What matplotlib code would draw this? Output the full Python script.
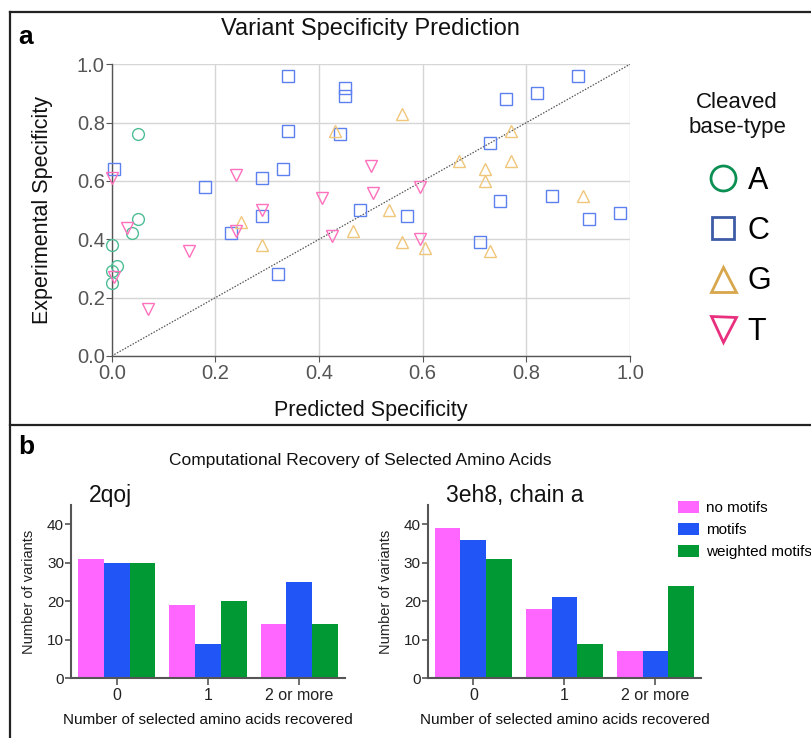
import matplotlib
matplotlib.use("Agg")
import matplotlib.pyplot as plt
from matplotlib.lines import Line2D
from matplotlib.patches import Patch
import numpy as np

# ---------------- panel a data: predicted vs experimental specificity ----------------
a_pred = [0.05, 0.05, 0.04, 0.0, 0.01, 0.0, 0.0]
a_exp = [0.76, 0.47, 0.42, 0.38, 0.31, 0.29, 0.25]

c_pred = [0.005, 0.34, 0.45, 0.45, 0.34, 0.44, 0.18, 0.33, 0.29, 0.29, 0.23, 0.32,
          0.48, 0.90, 0.82, 0.76, 0.73, 0.57, 0.75, 0.85, 0.92, 0.98, 0.71]
c_exp = [0.64, 0.96, 0.92, 0.89, 0.77, 0.76, 0.58, 0.64, 0.61, 0.48, 0.42, 0.28,
         0.50, 0.96, 0.90, 0.88, 0.73, 0.48, 0.53, 0.55, 0.47, 0.49, 0.39]

g_pred = [0.43, 0.25, 0.29, 0.465, 0.56, 0.77, 0.67, 0.77, 0.72, 0.72, 0.535, 0.56,
          0.605, 0.73, 0.91]
g_exp = [0.77, 0.46, 0.38, 0.43, 0.83, 0.77, 0.67, 0.67, 0.64, 0.60, 0.50, 0.39,
         0.37, 0.36, 0.55]

t_pred = [0.0, 0.03, 0.005, 0.07, 0.15, 0.24, 0.29, 0.24, 0.405, 0.425, 0.50, 0.505,
          0.595, 0.595]
t_exp = [0.61, 0.44, 0.27, 0.16, 0.36, 0.62, 0.50, 0.43, 0.54, 0.41, 0.65, 0.56,
         0.58, 0.40]

base_labels = ["A", "C", "G", "T"]
base_markers = ["o", "s", "^", "v"]
point_colors = ["#4dbd94", "#5d80f0", "#efc67a", "#ff70bd"]
legend_colors = ["#0b8f52", "#3e5ba6", "#d8a64c", "#e8307f"]

# ---------------- panel b data: recovered amino acids ----------------
groups = ["0", "1", "2 or more"]
methods = ["no motifs", "motifs", "weighted motifs"]
method_colors = ["#ff66ff", "#2255f5", "#009933"]
# one list per method, values for groups 0 / 1 / 2 or more
counts_2qoj = [[31, 19, 14], [30, 9, 25], [30, 20, 14]]
counts_3eh8 = [[39, 18, 7], [36, 21, 7], [31, 9, 24]]

W, H = 811, 738
plt.rcParams["font.family"] = ["Liberation Sans", "DejaVu Sans"]
fig = plt.figure(figsize=(W / 100, H / 100), dpi=100)


def fx(px):
    return px / W


def fy(py):
    return 1 - py / H


# frame lines
for (x0, y0, x1, y1) in [(9.5, 11.5, 811, 11.5), (9.5, 11.5, 9.5, 738), (9.5, 425, 811, 425)]:
    fig.add_artist(Line2D([fx(x0), fx(x1)], [fy(y0), fy(y1)], color="#222222", lw=1.6,
                          transform=fig.transFigure))

fig.text(fx(18), fy(37), "a", fontsize=19, fontweight="bold", va="center", ha="left")
fig.text(fx(18), fy(447), "b", fontsize=19, fontweight="bold", va="center", ha="left")

# ---------------- panel a ----------------
ax = fig.add_axes([fx(111.7), fy(356), fx(630) - fx(111.7), fy(64.3) - fy(356)])
ax.set_xlim(0, 1)
ax.set_ylim(0, 1)
ticks = np.arange(0, 1.01, 0.2)
ax.set_xticks(ticks)
ax.set_yticks(ticks)
ax.set_xticklabels([f"{t:.1f}" for t in ticks])
ax.set_yticklabels([f"{t:.1f}" for t in ticks])
ax.grid(True, color="#d6d6d6", lw=1.0)
ax.set_axisbelow(True)
for s in ["top", "right"]:
    ax.spines[s].set_visible(False)
for s in ["left", "bottom"]:
    ax.spines[s].set_color("#555555")
    ax.spines[s].set_linewidth(1.0)
ax.tick_params(colors="#555555", labelcolor="#555555", labelsize=14.5, length=4, width=0.8)
ax.tick_params(axis="x", pad=2)
ax.tick_params(axis="y", pad=1)
ax.plot([0, 1], [0, 1], color="#555555", lw=0.9, ls=(0, (1.2, 1.2)), zorder=2)

for xs, ys, m, c in zip([a_pred, c_pred, g_pred, t_pred], [a_exp, c_exp, g_exp, t_exp],
                        base_markers, point_colors):
    ax.plot(xs, ys, ls="none", marker=m, ms=8.5 if m != "s" else 8, mfc="none",
            mec=c, mew=1.0, zorder=3, clip_on=False)

ax.set_xlabel("Predicted Specificity", fontsize=15.5, color="#111111", labelpad=12)
ax.set_ylabel("Experimental Specificity", fontsize=15.5, color="#111111", labelpad=17)
fig.text(fx(370), fy(29), "Variant Specificity Prediction", fontsize=17, ha="center",
         va="center", color="#111111")

# legend for base types
fig.text(fx(737), fy(115), "Cleaved\nbase-type", fontsize=16, ha="center", va="center",
         linespacing=1.2, color="#111111")
handles = [Line2D([], [], ls="none", marker=m, ms=18 if m != "s" else 16, mfc="none",
                  mec=c, mew=2.0)
           for m, c in zip(base_markers, legend_colors)]
fig.legend(handles, base_labels, loc="upper left", bbox_to_anchor=(fx(708), fy(166)),
           frameon=False, fontsize=22, handlelength=1.0, handletextpad=0.3,
           labelspacing=0.66, borderpad=0, borderaxespad=0)

# ---------------- panel b ----------------
fig.text(fx(360), fy(461), "Computational Recovery of Selected Amino Acids", fontsize=12.5,
         ha="center", va="center", color="#111111")

bar_w = 0.283
x = np.arange(len(groups))


def bar_panel(left_px, width_px, counts, title):
    bx = fig.add_axes([fx(left_px), fy(678.3), width_px / W, fy(505) - fy(678.3)])
    for i, (vals, col) in enumerate(zip(counts, method_colors)):
        bx.bar(x + (i - 1) * bar_w, vals, width=bar_w, color=col, edgecolor="none",
               label=methods[i])
    bx.set_xlim(-0.5, 2.5)
    bx.set_ylim(0, 45)
    bx.set_yticks([0, 10, 20, 30, 40])
    bx.set_xticks(x)
    bx.set_xticklabels(groups)
    for s in ["top", "right"]:
        bx.spines[s].set_visible(False)
    for s in ["left", "bottom"]:
        bx.spines[s].set_color("#555555")
        bx.spines[s].set_linewidth(1.5)
    bx.tick_params(axis="y", colors="#555555", labelcolor="#222222", labelsize=11,
                   length=4, width=1.2, pad=1)
    bx.tick_params(axis="x", colors="#555555", labelcolor="#222222", labelsize=11.5,
                   length=5, width=1.2, pad=2)
    bx.set_ylabel("Number of variants", fontsize=10.5, labelpad=8, color="#222222")
    bx.set_xlabel("Number of selected amino acids recovered", fontsize=11,
                  labelpad=7, color="#111111")
    bx.text(0.066, 1.015, title, transform=bx.transAxes, fontsize=16.5,
            ha="left", va="baseline", color="#111111")
    return bx


b1 = bar_panel(70.9, 274.2, counts_2qoj, "2qoj")
b2 = bar_panel(427.8, 273.2, counts_3eh8, "3eh8, chain a")

legend_handles = [Patch(facecolor=c, edgecolor="none") for c in method_colors]
fig.legend(legend_handles, methods, loc="upper left", bbox_to_anchor=(fx(678), fy(501)),
           frameon=False, fontsize=11, handlelength=1.35, handleheight=0.85,
           handletextpad=0.5, labelspacing=0.5, borderpad=0, borderaxespad=0)

fig.savefig("out.png", dpi=100, facecolor="white")
